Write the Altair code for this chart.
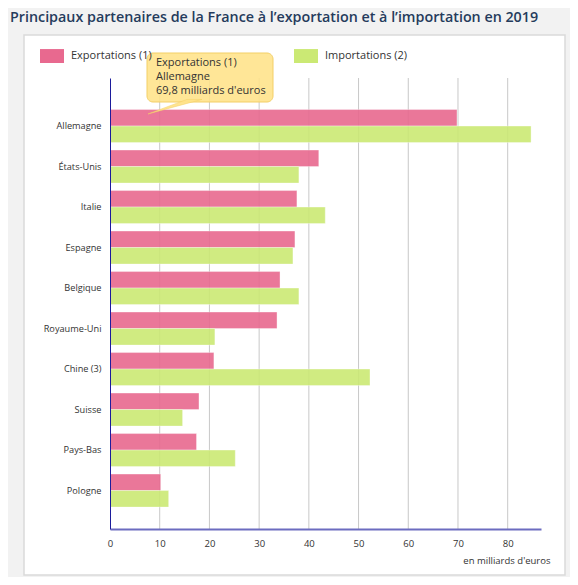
import altair as alt
import pandas as pd

countries = ["Allemagne", "États-Unis", "Italie", "Espagne", "Belgique",
             "Royaume-Uni", "Chine (3)", "Suisse", "Pays-Bas", "Pologne"]
exports = [69.8, 42.0, 37.6, 37.2, 34.2, 33.6, 20.9, 17.9, 17.4, 10.2]
imports = [84.7, 38.0, 43.3, 36.8, 38.0, 21.1, 52.3, 14.6, 25.2, 11.8]
series_names = ["Exportations (1)", "Importations (2)"]
series_colors = ["#e8698f", "#cbe974"]
x_ticks = [0, 10, 20, 30, 40, 50, 60, 70, 80]
title_text = "Principaux partenaires de la France à l’exportation et à l’importation en 2019"
x_title = "en milliards d'euros"

rows = []
for c, e, i in zip(countries, exports, imports):
    rows.append({"country": c, "series": series_names[0], "value": e})
    rows.append({"country": c, "series": series_names[1], "value": i})
df = pd.DataFrame(rows)

FONT = "Open Sans"
W, H = 431, 451

x_scale = alt.Scale(domain=[0, 86.7], nice=False, zero=True)

bars = alt.Chart(df).mark_bar(opacity=0.9, stroke="white", strokeOpacity=0.35, strokeWidth=1).encode(
    x=alt.X("value:Q", scale=x_scale,
            axis=alt.Axis(values=x_ticks, grid=False, ticks=False, labelPadding=9, zindex=2,
                          labelFlush=False,
                          labelFont=FONT, labelFontSize=9.5, labelColor="#333333",
                          domainColor="#6c6cc0", domainWidth=2,
                          title=x_title, titleFont=FONT, titleFontSize=9.5,
                          titleFontWeight="normal", titleColor="#333333",
                          titleAlign="right", titleAnchor="end", titleX=440, titleY=31,
                          titleBaseline="middle")),
    y=alt.Y("country:N", sort=countries,
            scale=alt.Scale(paddingInner=0.185, paddingOuter=0.66, align=0.59),
            axis=alt.Axis(title=None, ticks=False, labelPadding=9, labelFont=FONT, zindex=2,
                          labelFontSize=9.2, labelColor="#333333",
                          domainColor="#1c1c9c", domainWidth=1)),
    yOffset=alt.YOffset("series:N", sort=series_names,
                        scale=alt.Scale(paddingInner=0, paddingOuter=0)),
    color=alt.Color("series:N", sort=series_names,
                    scale=alt.Scale(domain=series_names, range=series_colors),
                    legend=alt.Legend(title=None, orient="none", legendX=-70, legendY=-34,
                                      direction="horizontal", columns=2,
                                      symbolType="M-1,-0.58H1V0.58H-1Z", symbolSize=576,
                                      symbolStrokeWidth=0, symbolOpacity=1,
                                      labelOffset=7, columnPadding=142,
                                      labelFont=FONT, labelFontSize=11, labelColor="#333333")),
)

panel = alt.Chart(pd.DataFrame({"a": [0]})).mark_rect(
    fill="white", stroke="#dadada", strokeWidth=1.5
).encode(x=alt.value(-86), x2=alt.value(455), y=alt.value(-43), y2=alt.value(497))

grid = alt.Chart(pd.DataFrame({"tick": x_ticks[1:]})).mark_rule(
    color="#c8c8c8", strokeWidth=1
).encode(x=alt.X("tick:Q", scale=x_scale))

title = alt.Chart(pd.DataFrame({"t": [title_text]})).mark_text(
    align="left", baseline="middle", font=FONT, fontSize=14.3, fontWeight=600, color="#253b5c"
).encode(x=alt.value(-100), y=alt.value(-60.5), text="t:N")

tip_text = "\n".join([series_names[0], countries[0],
                      f"{exports[0]:.1f}".replace(".", ",") + " milliards d'euros"])

tip_box = alt.Chart(pd.DataFrame({"a": [0]})).mark_rect(
    fill="#ffe389", fillOpacity=0.88, stroke="#f3cf67", strokeWidth=1, cornerRadius=6
).encode(x=alt.value(37), x2=alt.value(163), y=alt.value(-25), y2=alt.value(24))

tip_tail = alt.Chart(pd.DataFrame({"a": [0]})).mark_point(
    shape="M0.444,-0.3L1,-0.3L-1,0.24Z", size=2916, filled=True,
    fill="#ffe389", fillOpacity=0.95, stroke="#f3cf67", strokeWidth=0.5, opacity=1
).encode(x=alt.value(65), y=alt.value(29.5))

tip_label = alt.Chart(pd.DataFrame({"t": [tip_text]})).mark_text(
    align="left", baseline="top", font=FONT, fontSize=11, color="#333333",
    lineBreak="\n", lineHeight=14
).encode(x=alt.value(46), y=alt.value(-21), text="t:N")

chart = alt.layer(panel, grid, bars, tip_box, tip_tail, tip_label, title).properties(
    width=W, height=H,
    padding={"left": 102, "top": 70, "right": 29, "bottom": 48},
    autosize=alt.AutoSizeParams(type="none"),
    background="#f2f2f2",
).configure_view(stroke=None)

chart.save("out.html", embed_options={"renderer": "svg", "actions": False})
